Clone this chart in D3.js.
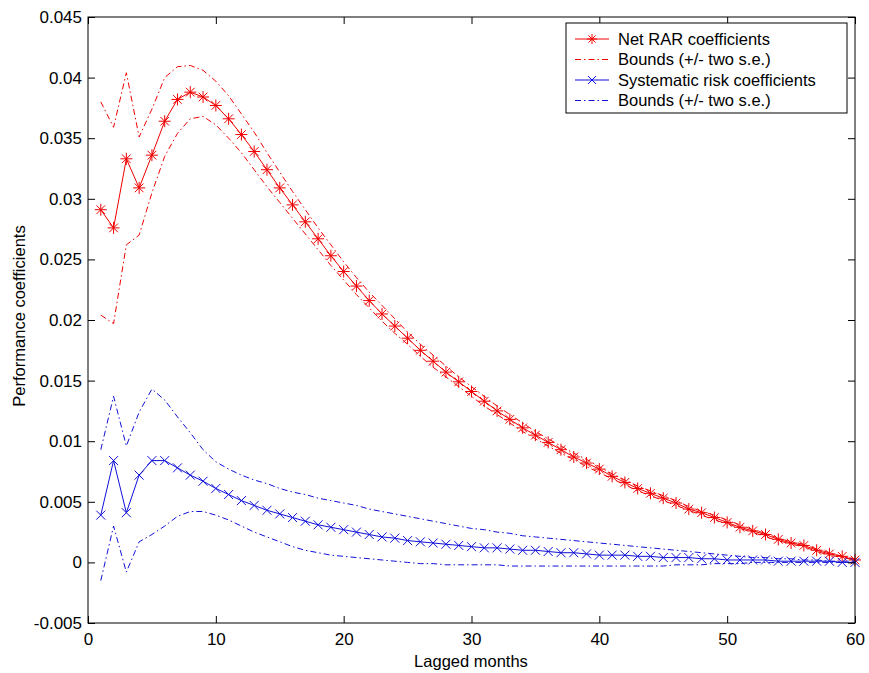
<!DOCTYPE html>
<html><head><meta charset="utf-8">
<script src="https://cdn.jsdelivr.net/npm/d3@7"></script>
<style>
html,body{margin:0;padding:0;background:#fff;}
svg text{font-family:"Liberation Sans",Arial,sans-serif;fill:#000;}
</style></head>
<body><svg id="c" width="869" height="673"></svg>
<script>
const months = d3.range(1, 61);
const xTicks = [0,10,20,30,40,50,60];
const yTicks = [-0.005,0,0.005,0.01,0.015,0.02,0.025,0.03,0.035,0.04,0.045];
const yTickLabels = ["-0.005","0","0.005","0.01","0.015","0.02","0.025","0.03","0.035","0.04","0.045"];
const legendLabels = ["Net RAR coefficients","Bounds (+/- two s.e.)","Systematic risk coefficients","Bounds (+/- two s.e.)"];
const xLabel = "Lagged months";
const yLabel = "Performance coefficients";

const rarMain = [0.0291,0.0276,0.0333,0.0309,0.0336,0.0364,0.0382,0.0388,0.0384,0.0377,
0.0366,0.0353,0.0339,0.0324,0.0309,0.0295,0.0281,0.0267,0.0253,0.0240,
0.0228,0.0216,0.0205,0.0195,0.0185,0.0175,0.0166,0.0157,0.0149,0.0141,
0.0133,0.0125,0.0118,0.0111,0.0105,0.0099,0.0093,0.0087,0.0082,0.0077,
0.0071,0.0066,0.0061,0.0057,0.0053,0.0049,0.0044,0.0041,0.0037,0.0033,
0.0029,0.0026,0.0023,0.0019,0.0016,0.0014,0.0010,0.0007,0.0005,0.0002];
const rarUpper = [0.0380,0.0359,0.0404,0.0351,0.0374,0.0400,0.0409,0.0410,0.0406,0.0397,
0.0385,0.0370,0.0355,0.0338,0.0322,0.0306,0.0291,0.0276,0.0262,0.0248,
0.0235,0.0223,0.0212,0.0201,0.0190,0.0180,0.0171,0.0162,0.0153,0.0145,
0.0137,0.0129,0.0122,0.0115,0.0108,0.0102,0.0096,0.0090,0.0085,0.0079,
0.0073,0.0068,0.0063,0.0059,0.0055,0.0051,0.0046,0.0042,0.0039,0.0035,
0.0031,0.0027,0.0024,0.0020,0.0017,0.0015,0.0011,0.0008,0.0005,0.0003];
const rarLower = [0.0204,0.0197,0.0262,0.0270,0.0305,0.0335,0.0354,0.0366,0.0368,0.0361,
0.0350,0.0338,0.0324,0.0310,0.0297,0.0284,0.0271,0.0258,0.0245,0.0233,
0.0221,0.0210,0.0199,0.0189,0.0180,0.0170,0.0161,0.0153,0.0145,0.0137,
0.0129,0.0122,0.0115,0.0108,0.0102,0.0096,0.0090,0.0085,0.0079,0.0074,
0.0069,0.0064,0.0059,0.0055,0.0051,0.0047,0.0043,0.0039,0.0035,0.0032,
0.0028,0.0025,0.0021,0.0018,0.0015,0.0013,0.0009,0.0006,0.0004,0.0002];
const sysMain = [0.0039,0.0084,0.0041,0.0072,0.0084,0.0084,0.0078,0.0072,0.0067,0.0061,
0.0056,0.0051,0.0047,0.0043,0.0040,0.0037,0.0034,0.0031,0.0029,0.0027,
0.0025,0.0023,0.0021,0.0020,0.0018,0.0017,0.0016,0.0015,0.0014,0.0013,
0.0012,0.0012,0.0011,0.0010,0.0010,0.0009,0.0008,0.0008,0.0007,0.0006,
0.0006,0.0006,0.0005,0.0005,0.0004,0.0004,0.0004,0.0003,0.0003,0.0002,
0.0002,0.0002,0.0002,0.0001,0.0001,0.0001,0.0001,0.0001,0.0000,0.0000];
const sysUpper = [0.0093,0.0137,0.0096,0.0124,0.0143,0.0134,0.0120,0.0107,0.0093,0.0083,
0.0077,0.0072,0.0068,0.0065,0.0061,0.0058,0.0056,0.0053,0.0051,0.0049,
0.0047,0.0044,0.0042,0.0040,0.0038,0.0036,0.0034,0.0032,0.0030,0.0028,
0.0027,0.0025,0.0024,0.0022,0.0021,0.0020,0.0019,0.0018,0.0017,0.0016,
0.0015,0.0014,0.0013,0.0012,0.0011,0.0010,0.0009,0.0008,0.0007,0.0006,
0.0005,0.0004,0.0004,0.0003,0.0003,0.0002,0.0002,0.0001,0.0001,0.0001];
const sysLower = [-0.0015,0.0030,-0.0008,0.0017,0.0023,0.0030,0.0038,0.0042,0.0042,0.0039,
0.0035,0.0030,0.0025,0.0021,0.0017,0.0013,0.0010,0.0008,0.0006,0.0005,
0.0004,0.0003,0.0002,0.0001,0.0000,-0.0001,-0.0001,-0.0002,-0.0002,-0.0002,
-0.0002,-0.0002,-0.0003,-0.0003,-0.0003,-0.0003,-0.0003,-0.0003,-0.0003,-0.0003,
-0.0003,-0.0003,-0.0003,-0.0003,-0.0003,-0.0002,-0.0002,-0.0002,-0.0001,-0.0001,
-0.0001,0.0000,0.0000,0.0000,0.0000,0.0000,0.0000,0.0000,0.0000,0.0000];

const RED = "#f00000", BLUE = "#1010d8";
const DASHDOT = "6,3,1.5,3";

const L = 88, R = 855, T = 17, B = 623;
const svg = d3.select("#c");
const x = d3.scaleLinear().domain([0,60]).range([L,R]);
const y = d3.scaleLinear().domain([-0.005,0.045]).range([B,T]);

const line = d3.line().x((d,i)=>x(months[i])).y(d=>y(d));

function drawLine(vals, color, dash){
  svg.append("path").attr("d", line(vals)).attr("fill","none")
    .attr("stroke", color).attr("stroke-width",1)
    .attr("stroke-dasharray", dash || null);
}
function starPath(cx, cy, r){
  const d = r*0.72;
  return `M${cx-r},${cy}L${cx+r},${cy}M${cx},${cy-r}L${cx},${cy+r}` +
         `M${cx-d},${cy-d}L${cx+d},${cy+d}M${cx-d},${cy+d}L${cx+d},${cy-d}`;
}
function xPath(cx, cy, r){
  return `M${cx-r},${cy-r}L${cx+r},${cy+r}M${cx-r},${cy+r}L${cx+r},${cy-r}`;
}

// red series
drawLine(rarUpper, RED, DASHDOT);
drawLine(rarLower, RED, DASHDOT);
drawLine(rarMain, RED);
svg.append("g").selectAll("path").data(rarMain).join("path")
  .attr("d",(d,i)=>starPath(x(months[i]), y(d), 6))
  .attr("stroke",RED).attr("stroke-width",1).attr("fill","none");

// blue series
drawLine(sysUpper, BLUE, DASHDOT);
drawLine(sysLower, BLUE, DASHDOT);
drawLine(sysMain, BLUE);
svg.append("g").selectAll("path").data(sysMain).join("path")
  .attr("d",(d,i)=>xPath(x(months[i]), y(d), 4.5))
  .attr("stroke",BLUE).attr("stroke-width",1).attr("fill","none");

// axes box
const tickLen = 7;
const xAxB = d3.axisBottom(x).tickValues(xTicks).tickSizeInner(-tickLen).tickSizeOuter(0).tickPadding(10);
const xAxT = d3.axisTop(x).tickValues(xTicks).tickSizeInner(-tickLen).tickSizeOuter(0).tickFormat("");
const yAxL = d3.axisLeft(y).tickValues(yTicks).tickSizeInner(-tickLen).tickSizeOuter(0).tickPadding(6)
  .tickFormat((d,i)=>yTickLabels[i]);
const yAxR = d3.axisRight(y).tickValues(yTicks).tickSizeInner(-tickLen).tickSizeOuter(0).tickFormat("");

function styleAxis(g){
  g.select(".domain").remove();
  g.selectAll("line").attr("stroke","#000");
  g.selectAll("text").attr("font-size",17).attr("font-family",'"Liberation Sans",Arial,sans-serif');
}
svg.append("g").attr("transform",`translate(0,${B})`).call(xAxB).call(styleAxis);
svg.append("g").attr("transform",`translate(0,${T})`).call(xAxT).call(styleAxis);
svg.append("g").attr("transform",`translate(${L},0)`).call(yAxL).call(styleAxis);
svg.append("g").attr("transform",`translate(${R},0)`).call(yAxR).call(styleAxis);
svg.append("rect").attr("x",L).attr("y",T).attr("width",R-L).attr("height",B-T)
  .attr("fill","none").attr("stroke","#000").attr("stroke-width",1);

// labels
svg.append("text").attr("x",471).attr("y",667).attr("text-anchor","middle")
  .attr("font-size",16.5).text(xLabel);
svg.append("text").attr("transform",`translate(25,316) rotate(-90)`)
  .attr("text-anchor","middle").attr("font-size",16.5).text(yLabel);

// legend
const lg = svg.append("g");
lg.append("rect").attr("x",566).attr("y",23).attr("width",281).attr("height",90)
  .attr("fill","#fff").attr("stroke","#000").attr("stroke-width",1);
const legColors = [RED, RED, BLUE, BLUE];
const legDash = [null, DASHDOT, null, DASHDOT];
const legMarker = ["star", null, "x", null];
legendLabels.forEach((lab,i)=>{
  const cy = 39 + i*20.5;
  lg.append("line").attr("x1",575).attr("x2",609).attr("y1",cy).attr("y2",cy)
    .attr("stroke",legColors[i]).attr("stroke-width",1).attr("stroke-dasharray",legDash[i]);
  if(legMarker[i]==="star") lg.append("path").attr("d",starPath(592,cy,5)).attr("stroke",legColors[i]).attr("fill","none");
  if(legMarker[i]==="x") lg.append("path").attr("d",xPath(592,cy,4)).attr("stroke",legColors[i]).attr("fill","none");
  lg.append("text").attr("x",618).attr("y",cy).attr("dy","0.35em").attr("font-size",16.5).text(lab);
});
</script></body></html>
